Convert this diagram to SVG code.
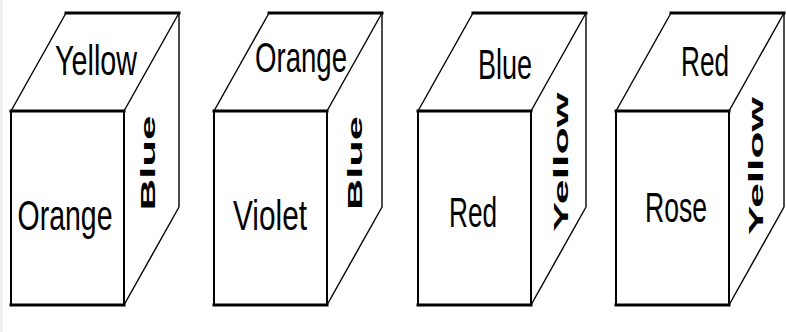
<svg xmlns="http://www.w3.org/2000/svg" width="786" height="332" viewBox="0 0 786 332">
<style>
.bg{fill:#ffffff}
.edge{fill:none;stroke:#000;stroke-width:1.4}
.thick{fill:none;stroke:#000;stroke-width:3;stroke-linecap:square}
.vert{fill:none;stroke:#000;stroke-width:2}
.big{font-family:"Liberation Sans",Arial,sans-serif;font-size:42px;fill:#000;text-anchor:middle}
.side{font-family:"Liberation Sans",Arial,sans-serif;font-size:21px;font-weight:bold;fill:#000;text-anchor:middle}
</style>
<defs>
<g id="cube">
<line class="edge" x1="0" y1="98" x2="55" y2="0"/>
<line class="edge" x1="113" y1="98" x2="168" y2="0"/>
<line class="edge" x1="113" y1="292" x2="168" y2="194"/>
<line class="edge" x1="168" y1="0" x2="168" y2="194"/>
<line class="thick" x1="55" y1="0" x2="168" y2="0"/>
<line class="thick" x1="0" y1="98" x2="113" y2="98"/>
<line class="thick" x1="0" y1="292" x2="113" y2="292"/>
<line class="vert" x1="0" y1="98" x2="0" y2="292"/>
<line class="vert" x1="113" y1="98" x2="113" y2="292"/>
</g>
</defs>
<rect class="bg" x="0" y="0" width="786" height="332"/>
<rect x="0" y="0" width="3" height="332" fill="#f0f0f0"/>
<g id="cube1">
<use href="#cube" x="11" y="13"/>
<text class="big" x="96" y="75" textLength="82" lengthAdjust="spacingAndGlyphs">Yellow</text>
<text class="big" x="65" y="230" textLength="95" lengthAdjust="spacingAndGlyphs">Orange</text>
<text class="side" transform="translate(155,163) rotate(-90)" textLength="95" lengthAdjust="spacingAndGlyphs">Blue</text>
</g>
<g id="cube2">
<use href="#cube" x="214" y="13"/>
<text class="big" x="301" y="72" textLength="92" lengthAdjust="spacingAndGlyphs">Orange</text>
<text class="big" x="270" y="230" textLength="74" lengthAdjust="spacingAndGlyphs">Violet</text>
<text class="side" transform="translate(362,163) rotate(-90)" textLength="94" lengthAdjust="spacingAndGlyphs">Blue</text>
</g>
<g id="cube3">
<use href="#cube" x="418" y="13"/>
<text class="big" x="505" y="79" textLength="54" lengthAdjust="spacingAndGlyphs">Blue</text>
<text class="big" x="473" y="227" textLength="48" lengthAdjust="spacingAndGlyphs">Red</text>
<text class="side" transform="translate(568,162) rotate(-90)" textLength="139" lengthAdjust="spacingAndGlyphs">Yellow</text>
</g>
<g id="cube4">
<use href="#cube" x="616" y="13"/>
<text class="big" x="705" y="76" textLength="48" lengthAdjust="spacingAndGlyphs">Red</text>
<text class="big" x="676" y="222" textLength="62" lengthAdjust="spacingAndGlyphs">Rose</text>
<text class="side" transform="translate(763,166) rotate(-90)" textLength="138" lengthAdjust="spacingAndGlyphs">Yellow</text>
</g>
<g id="connectors"></g>
</svg>
